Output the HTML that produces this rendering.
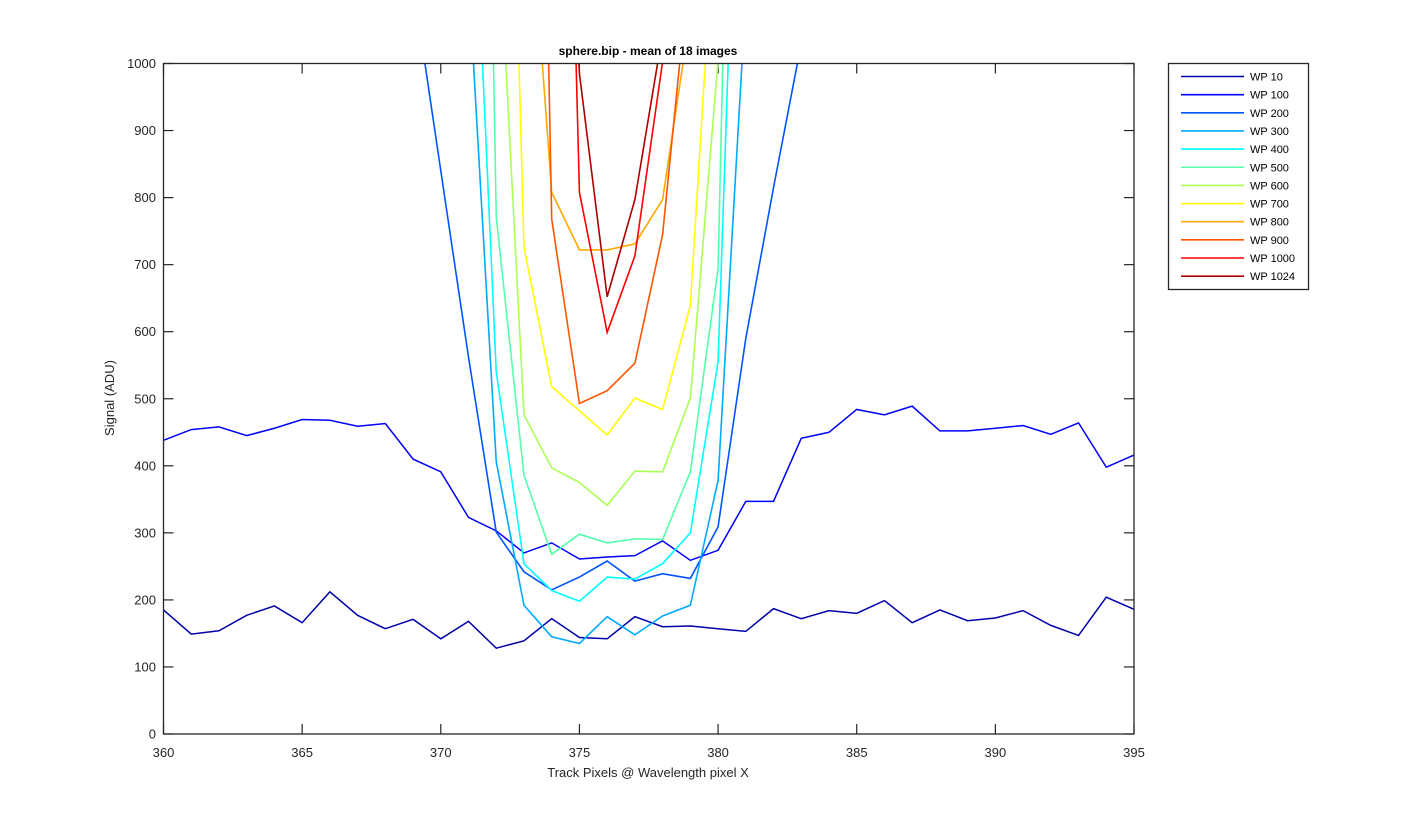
<!DOCTYPE html>
<html><head><meta charset="utf-8"><style>
body{margin:0;background:#fff;}
svg{display:block;font-family:"Liberation Sans",Arial,sans-serif;}
</style></head><body>
<svg id="chart" width="1425" height="825" viewBox="0 0 1425 825">
<defs><clipPath id="pc"><rect x="163" y="63" width="971" height="671"/></clipPath></defs>
<rect width="1425" height="825" fill="#fff"/>
<rect x="163" y="63" width="971" height="671" fill="#fff"/>
<g id="grid"></g>
<g id="series" clip-path="url(#pc)"></g>
<rect x="163.5" y="63.5" width="970.5" height="670.5" fill="none" stroke="#262626" stroke-width="1.3"/>
<text x="648" y="55" text-anchor="middle" font-size="12" font-weight="bold" fill="#000">sphere.bip - mean of 18 images</text>
<text x="648" y="777" text-anchor="middle" font-size="13" fill="#262626">Track Pixels @ Wavelength pixel X</text>
<text x="114" y="398" text-anchor="middle" font-size="13" fill="#262626" transform="rotate(-90 114 398)">Signal (ADU)</text>
<g id="legend">
<rect x="1168.5" y="63.5" width="140" height="226" fill="#fff" stroke="#262626" stroke-width="1.3"/>
</g>
</svg>
<script>
const xTicks=[360,365,370,375,380,385,390,395];
const yTicks=[0,100,200,300,400,500,600,700,800,900,1000];
const seriesNames=["WP 10","WP 100","WP 200","WP 300","WP 400","WP 500","WP 600","WP 700","WP 800","WP 900","WP 1000","WP 1024"];
const seriesStart=[360,360,369,371,371,371,372,372,373,373,374,374];
const wp10=[185,149,154,177,191,166,212,177,157,171,142,168,128,139,172,144,142,175,160,161,157,153,187,172,184,180,199,166,185,169,173,184,162,147,204,186];
const wp100=[438,454,458,445,456,469,468,459,463,410,391,323,303,270,285,261,264,266,288,259,274,347,347,441,450,484,476,489,452,452,456,460,447,464,398,416];
const wp200=[1120,840,562,301,242,215,234,258,228,239,232,309,590,815,1030];
const wp300=[1130,406,192,145,135,175,148,176,192,378,1100];
const wp400=[1470,540,254,214,198,234,231,254,300,555,1780];
const wp500=[3100,771,386,268,298,285,291,290,391,694,2500];
const wp600=[1277,476,397,375,341,392,391,501,1005,2000];
const wp700=[2250,726,518,482,446,501,484,639,1310];
const wp800=[1375,808,722,722,731,797,1073];
const wp900=[2900,768,493,512,553,745,1160];
const wp1000=[2400,808,599,713,1003,2000];
const wp1024=[1800,985,652,797,1045];
const seriesValues=[wp10,wp100,wp200,wp300,wp400,wp500,wp600,wp700,wp800,wp900,wp1000,wp1024];
const colors=["#0000aa","#0000ff","#0055ff","#00aaff","#00ffff","#55ffaa","#aaff55","#ffff00","#ffaa00","#ff5500","#ff0000","#aa0000"];

const X0=163.5,X1=1134,Y0=734,Y1=63.5;
const sx=v=>X0+(v-360)/(395-360)*(X1-X0);
const sy=v=>Y0-(v/1000)*(Y0-Y1);
const NS="http://www.w3.org/2000/svg";
const grid=document.getElementById('grid');
const ser=document.getElementById('series');
const leg=document.getElementById('legend');
function mk(tag,attrs,parent){const e=document.createElementNS(NS,tag);for(const k in attrs)e.setAttribute(k,attrs[k]);parent.appendChild(e);return e;}

xTicks.forEach(t=>{
  const x=sx(t);
  const a=mk('line',{x1:x,x2:x,y1:Y0,y2:Y0-10,stroke:'#262626','stroke-width':1.2},grid);
  
  
  const b=mk('line',{x1:x,x2:x,y1:Y1,y2:Y1+10,stroke:'#262626','stroke-width':1.2},grid);
  
  
  const l=mk('text',{x:x,y:757,'text-anchor':'middle','font-size':13,fill:'#262626'},grid);
  l.textContent=t;
  
  
});
yTicks.forEach(t=>{
  const y=sy(t);
  const a=mk('line',{x1:X0,x2:X0+10,y1:y,y2:y,stroke:'#262626','stroke-width':1.2},grid);
  
  
  const b=mk('line',{x1:X1,x2:X1-10,y1:y,y2:y,stroke:'#262626','stroke-width':1.2},grid);
  
  
  const l=mk('text',{x:156,y:y+4.5,'text-anchor':'end','font-size':13,fill:'#262626'},grid);
  l.textContent=t;
  
  
});
seriesValues.forEach((vals,i)=>{
  const pts=vals.map((v,j)=>sx(seriesStart[i]+j).toFixed(2)+','+sy(v).toFixed(2)).join(' ');
  const p=mk('polyline',{points:pts,fill:'none',stroke:colors[i],'stroke-width':(i<2?1.5:1.6),'stroke-linejoin':'miter'},ser);
  
  
  const ly=76.5+i*18.15;
  const ll=mk('line',{x1:1181,x2:1244,y1:ly,y2:ly,stroke:colors[i],'stroke-width':1.6},leg);
  
  
  const lt=mk('text',{x:1250,y:ly+4,'font-size':11,fill:'#000'},leg);
  lt.textContent=seriesNames[i];
  
  
});
</script>
</body></html>
